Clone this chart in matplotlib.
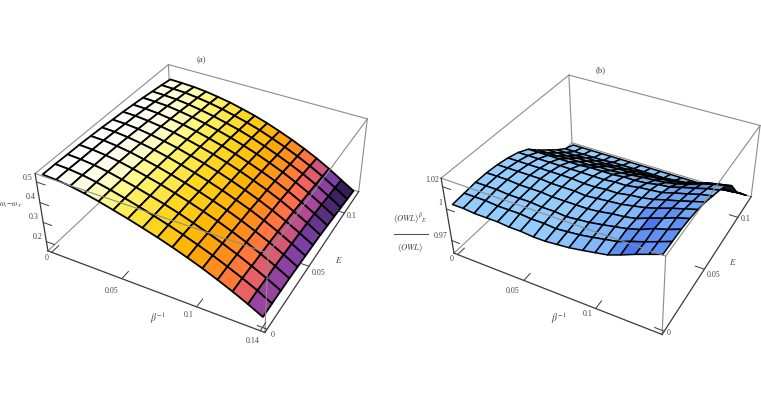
"""Two perspective surface plots: omega_t - omega_T and the <OWL> ratio."""
import matplotlib
matplotlib.use("Agg")
import matplotlib.pyplot as plt
import numpy as np
from matplotlib.colors import LinearSegmentedColormap, to_rgb
from matplotlib.lines import Line2D

W, H = 761, 399
TEXT = "#444444"
GRAY = "#8c8c8c"

beta_a = np.array([0.0, .0093, .0187, .028, .0373, .0467, .056, .0653, .0747, .084, .0933, .1027, .112, .1213,
                   .1307, .14])
beta_b = np.array([0.0, .008, .016, .025, .033, .041, .049, .058, .066, .074, .082, .091, .099, .107,
                   .115, .124, .132, .14])
energy = np.array([0.00, 0.01, 0.02, 0.03, 0.04, 0.05, 0.06, 0.07, 0.08, 0.09, 0.10, 0.11, 0.12])

# rows: beta, columns: energy
omega_diff = np.array([
    [.530, .530, .528, .527, .524, .521, .516, .512, .506, .500, .492, .485, .476],
    [.527, .527, .525, .524, .522, .519, .514, .510, .504, .498, .490, .483, .474],
    [.519, .520, .518, .517, .515, .512, .508, .504, .499, .494, .486, .480, .471],
    [.507, .508, .507, .507, .505, .502, .498, .495, .490, .485, .478, .472, .464],
    [.492, .493, .492, .493, .491, .490, .486, .484, .479, .474, .467, .462, .454],
    [.474, .476, .476, .477, .476, .475, .472, .469, .465, .460, .454, .449, .442],
    [.456, .458, .458, .460, .458, .457, .454, .452, .448, .444, .438, .433, .426],
    [.436, .438, .439, .440, .439, .438, .436, .434, .430, .426, .421, .416, .409],
    [.415, .417, .418, .419, .418, .417, .415, .413, .409, .405, .400, .395, .388],
    [.392, .394, .394, .396, .395, .394, .392, .390, .385, .382, .376, .371, .364],
    [.367, .369, .369, .371, .370, .368, .366, .364, .360, .356, .350, .345, .338],
    [.340, .342, .342, .343, .342, .341, .338, .336, .332, .328, .321, .316, .309],
    [.310, .312, .312, .313, .311, .310, .307, .305, .300, .296, .290, .284, .277],
    [.278, .280, .279, .279, .278, .276, .273, .270, .265, .261, .255, .248, .241],
    [.243, .245, .243, .243, .241, .238, .235, .232, .226, .221, .214, .208, .200],
    [.205, .205, .205, .204, .201, .198, .195, .191, .185, .179, .173, .166, .160],
])
owl_ratio = np.array([
    [1.003, 1.004, 1.005, 1.005, 1.004, 1.002, .999, .994, .985, .977, .969, .962, .958],
    [1.003, 1.004, 1.005, 1.005, 1.004, 1.002, .999, .994, .985, .977, .969, .962, .958],
    [1.002, 1.004, 1.005, 1.005, 1.004, 1.002, .999, .994, .985, .977, .969, .962, .958],
    [1.002, 1.003, 1.004, 1.004, 1.004, 1.002, .999, .994, .986, .978, .970, .962, .958],
    [1.002, 1.003, 1.004, 1.004, 1.004, 1.002, .999, .994, .986, .978, .970, .962, .958],
    [1.001, 1.003, 1.004, 1.004, 1.003, 1.002, .999, .994, .986, .978, .970, .963, .958],
    [1.001, 1.002, 1.003, 1.003, 1.003, 1.002, .999, .995, .987, .979, .971, .963, .958],
    [1.000, 1.002, 1.003, 1.003, 1.003, 1.001, .999, .995, .987, .980, .971, .963, .958],
    [1.000, 1.001, 1.002, 1.003, 1.002, 1.001, .999, .995, .988, .980, .972, .963, .958],
    [1.001, 1.002, 1.003, 1.003, 1.003, 1.002, 1.000, .996, .989, .981, .972, .963, .958],
    [1.002, 1.003, 1.004, 1.004, 1.004, 1.002, 1.000, .996, .990, .982, .972, .963, .958],
    [1.004, 1.005, 1.006, 1.006, 1.005, 1.004, 1.002, .997, .991, .983, .973, .964, .958],
    [1.006, 1.007, 1.008, 1.007, 1.007, 1.005, 1.003, .999, .992, .984, .974, .965, .958],
    [1.008, 1.009, 1.010, 1.009, 1.009, 1.007, 1.004, 1.000, .994, .986, .975, .966, .958],
    [1.012, 1.013, 1.013, 1.013, 1.012, 1.010, 1.007, 1.003, .997, .989, .977, .968, .959],
    [1.017, 1.017, 1.018, 1.017, 1.016, 1.013, 1.010, 1.006, 1.001, .993, .980, .969, .959],
    [1.021, 1.021, 1.021, 1.021, 1.019, 1.016, 1.013, 1.009, 1.004, .995, .981, .970, .960],
    [1.025, 1.025, 1.025, 1.024, 1.022, 1.019, 1.015, 1.011, 1.006, .997, .982, .971, .960],
])

beta_ticks = [0, 0.05, 0.1]
beta_labels_a = ["0", "0.05", "0.1", "0.14"]
energy_ticks = [0, 0.05, 0.1]
energy_labels = ["0", "0.05", "0.1"]
z_ticks_a = [0.2, 0.3, 0.4, 0.5]
z_labels_a = ["0.2", "0.3", "0.4", "0.5"]
z_ticks_b = [0.97, 1.0, 1.02]
z_labels_b = ["0.97", "1", "1.02"]

# box limits and where the box corners land in the picture (pixels)
box_a = dict(x=(-0.0028, 0.1428), y=(-0.0024, 0.1224), z=(0.15, 0.54))
corners_a = {
    (0, 0, 0): (48, 252), (1, 0, 0): (265, 332), (1, 1, 0): (358, 193), (0, 1, 0): (172, 133),
    (0, 0, 1): (35, 173), (1, 0, 1): (268, 253), (1, 1, 1): (368, 118), (0, 1, 1): (168, 66),
}
box_b = dict(x=(-0.0028, 0.1428), y=(-0.0024, 0.1224), z=(0.9575, 1.0275))
corners_b = {
    (0, 0, 0): (453, 253), (1, 0, 0): (662, 334), (1, 1, 0): (751, 197), (0, 1, 0): (573, 143),
    (0, 0, 1): (442, 178), (1, 0, 1): (666, 257), (1, 1, 1): (760, 125), (0, 1, 1): (568, 75),
}

plt.rcParams["font.family"] = ["Liberation Serif", "DejaVu Serif"]
plt.rcParams["mathtext.fontset"] = "stix"


def set_camera(ax, box, corners):
    """Fit a pinhole camera to the box corners and hand it to the 3D axes."""
    rows = []
    for (u, v, t), (px, py) in corners.items():
        p = [u, v, t, 1]
        rows.append(p + [0, 0, 0, 0] + [-px / 1000 * c for c in p])
        rows.append([0, 0, 0, 0] + p + [-py / 1000 * c for c in p])
    cam = np.linalg.svd(np.array(rows))[2][-1].reshape(3, 4)
    mid = cam[2] @ np.array([0.5, 0.5, 0.5, 1])
    cam = cam / mid

    # data -> unit box
    scale = np.eye(4)
    for i, key in enumerate("xyz"):
        lo, hi = box[key]
        scale[i, i] = 1 / (hi - lo)
        scale[i, 3] = -lo / (hi - lo)

    ax.apply_aspect()
    to_view = ax.transData.inverted()
    o = to_view.transform((0, H))
    ex = to_view.transform((1000, H)) - o
    ey = to_view.transform((0, H - 1000)) - o
    pix2view = np.array([[ex[0], ey[0], o[0]], [ex[1], ey[1], o[1]], [0, 0, 1]])
    xyw = pix2view @ cam

    M = np.vstack([xyw[0], xyw[1], xyw[2] - [0, 0, 0, 0.5], xyw[2]]) @ scale
    ax.get_proj = lambda: M
    ax.M = M
    ax.set_proj_type("ortho")
    ax.computed_zorder = False
    ax.set_axis_off()
    ax.patch.set_visible(False)


def edge(ax, p, q, color=GRAY, lw=0.8, z=1):
    ax.plot([p[0], q[0]], [p[1], q[1]], [p[2], q[2]], color=color, lw=lw, zorder=z)


def draw_box(ax, box, z_ticks, x_ticks, y_ticks):
    x0, x1 = box["x"]
    y0, y1 = box["y"]
    z0, z1 = box["z"]
    dark = "#3a3a3a"
    # behind the surface
    edge(ax, (x0, y0, z0), (x0, y1, z0), GRAY, 0.8, 1)
    edge(ax, (x0, y1, z0), (x1, y1, z0), GRAY, 0.8, 1)
    edge(ax, (x0, y1, z0), (x0, y1, z1), GRAY, 0.8, 1)
    edge(ax, (x0, y1, z1), (x0, y0, z1), GRAY, 0.8, 1)
    edge(ax, (x0, y1, z1), (x1, y1, z1), GRAY, 0.8, 1)
    edge(ax, (x1, y1, z0), (x1, y1, z1), GRAY, 0.8, 1)
    # in front of it
    edge(ax, (x0, y0, z1), (x1, y0, z1), GRAY, 0.8, 5)
    edge(ax, (x1, y0, z1), (x1, y1, z1), GRAY, 0.8, 5)
    edge(ax, (x1, y0, z0), (x1, y0, z1), GRAY, 0.8, 5)
    edge(ax, (x0, y0, z0), (x1, y0, z0), dark, 0.9, 5)
    edge(ax, (x1, y0, z0), (x1, y1, z0), dark, 0.9, 5)
    edge(ax, (x0, y0, z0), (x0, y0, z1), dark, 0.9, 5)
    for t in x_ticks:
        edge(ax, (t, y0, z0), (t, y0 + 0.006, z0), dark, 0.7, 5)
    for t in y_ticks:
        edge(ax, (x1, t, z0), (x1 - 0.006, t, z0), dark, 0.7, 5)
    for t in z_ticks:
        edge(ax, (x0, y0, t), (x0 + 0.006, y0, t), dark, 0.7, 5)


def label(px, py, text, size=5.8, **kw):
    fig.text(px / W, 1 - py / H, text, fontsize=size, color=TEXT, ha="center", va="center", **kw)


def heat_colors(z, b, e):
    """Cell colours for panel (a): height, paler towards the back, darker towards the far right."""
    levels = [(.14, "#20102c"), (.17, "#3c2260"), (.205, "#7b3fa5"), (.235, "#b0489a"), (.27, "#ff6a50"),
              (.32, "#ff8a20"), (.37, "#ffb000"), (.43, "#ffd820"), (.47, "#fff060"), (.49, "#fffb90"),
              (.51, "#fffdd8"), (.53, "#ffffff")]
    lo, hi = levels[0][0], levels[-1][0]
    heat = LinearSegmentedColormap.from_list("heat", [((v - lo) / (hi - lo), c) for v, c in levels])
    bc = ((b[:-1] + b[1:]) / 2)[:, None]
    ec = ((e[:-1] + e[1:]) / 2)[None, :]
    cells = (z[:-1, :-1] + z[1:, 1:]) / 2
    value = cells + 0.3 * ec * (1 - bc / 0.14) - 0.2 * ec * (bc / 0.14)
    return heat((value - lo) / (hi - lo))


def owl_colors(z):
    """Cell colours for panel (b): light sky blue, deeper where it climbs, dark on the far slope."""
    light = np.array(to_rgb("#93ccff"))
    deep = np.array(to_rgb("#4a78f0"))
    dz_b = np.diff(z, axis=0)[:, :-1]
    dz_e = np.diff(z, axis=1)[:-1, :]
    rise = (np.clip(dz_b / 0.005, 0, 1) ** 1.5)[..., None]
    rgb = light * (1 - rise) + deep * rise
    frac = (np.arange(z.shape[0] - 1) / (z.shape[0] - 2))[:, None]
    dark = np.clip((-dz_e - 0.004) / 0.008, 0, 1) * (0.2 + 0.8 * frac ** 2)
    return np.clip(rgb * (1 - 0.85 * dark[..., None]), 0, 1)


fig = plt.figure(figsize=(W / 100, H / 100), dpi=100)

# panel (a)
ax_a = fig.add_axes([0, 0, 0.5, 1], projection="3d")
set_camera(ax_a, box_a, corners_a)
draw_box(ax_a, box_a, z_ticks_a, beta_ticks + [0.14], energy_ticks)
B, E = np.meshgrid(beta_a, energy, indexing="ij")
ax_a.plot_surface(B, E, omega_diff, rstride=1, cstride=1, facecolors=heat_colors(omega_diff, beta_a, energy),
                  shade=False, edgecolor="black", linewidth=1.3, zorder=3)

# panel (b)
ax_b = fig.add_axes([0.5, 0, 0.5, 1], projection="3d")
set_camera(ax_b, box_b, corners_b)
draw_box(ax_b, box_b, z_ticks_b, beta_ticks, energy_ticks)
B, E = np.meshgrid(beta_b, energy, indexing="ij")
ax_b.plot_surface(B, E, owl_ratio, rstride=1, cstride=1, facecolors=owl_colors(owl_ratio), shade=False,
                  edgecolor="black", linewidth=1.1, zorder=3)

# text of panel (a)
label(201, 60, "(a)", 6.2)
for (px, py), s in zip([(47, 258), (112, 291), (189, 315), (253, 341)], beta_labels_a):
    label(px, py, s)
for (px, py), s in zip([(273, 335), (319, 273), (352, 216)], energy_labels):
    label(px, py, s)
for (px, py), s in zip([(38, 237), (34, 217), (31, 197), (28, 178)], z_labels_a):
    label(px, py, s)
label(158, 318, r"$\beta^{-1}$", 7)
label(339, 260, r"$E$", 6.5)
label(11, 205, r"$\omega_t\!-\!\omega_T$", 5.6)

# text of panel (b)
label(601, 70, "(b)", 6.2)
for (px, py), s in zip([(452, 259), (513, 291), (588, 314)], ["0", "0.05", "0.1"]):
    label(px, py, s)
for (px, py), s in zip([(669, 333), (714, 275), (746, 219)], energy_labels):
    label(px, py, s)
for (px, py), s in zip([(441, 236), (440, 203), (432, 180)], z_labels_b):
    label(px, py, s)
label(559, 318, r"$\beta^{-1}$", 7)
label(733, 262, r"$E$", 6.5)
label(410, 219, r"$\langle OWL\rangle^{\beta}{}_{E}$", 6.2)
label(410, 248, r"$\langle OWL\rangle$", 6.2)
fig.add_artist(Line2D([394 / W, 428 / W], [1 - 234 / H, 1 - 234 / H], color="#555555", lw=0.8))

fig.savefig("out.png", dpi=100)
